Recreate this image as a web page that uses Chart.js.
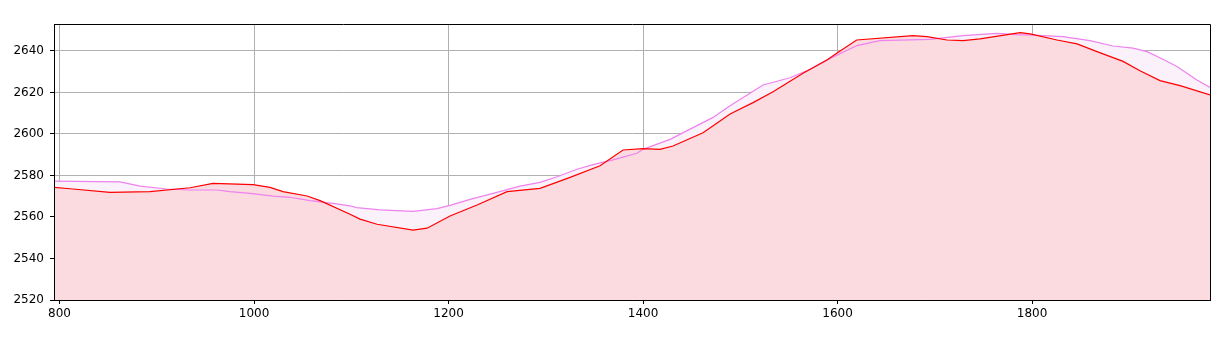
<!DOCTYPE html>
<html>
<head>
<meta charset="utf-8">
<script src="https://cdn.jsdelivr.net/npm/chart.js@4/dist/chart.umd.min.js"></script>
<style>
  html, body { margin: 0; padding: 0; background: #fff; }
  #wrap { width: 1222px; height: 346px; position: relative; }
</style>
</head>
<body>
<div id="wrap"><canvas id="c" width="1222" height="346"></canvas></div>
<script>
// Series A (red line, pink fill)
const redX = [794.3, 810.8, 851.9, 893.1, 934.2, 957.8, 999, 1016.4, 1029.8, 1054.5, 1067.9, 1098.7, 1109, 1126.5, 1163.5, 1177.9, 1201.5, 1229.3, 1260.2, 1294.1, 1325, 1355.8, 1379.4, 1400, 1417.5, 1430.8, 1461.7, 1489.5, 1513.1, 1533.7, 1564.5, 1589.2, 1599.5, 1619.7, 1677.6, 1692, 1712.6, 1729, 1746.5, 1787.7, 1798, 1825.7, 1846.3, 1866.8, 1893.6, 1911, 1931.6, 1952.2, 1983];
const redY = [2574.3, 2573.6, 2571.9, 2572.2, 2574.1, 2576.2, 2575.6, 2574.3, 2572.2, 2570.1, 2567.9, 2561.3, 2559, 2556.5, 2553.7, 2554.6, 2560.5, 2565.8, 2572.2, 2573.8, 2579.1, 2584.7, 2592.3, 2592.9, 2592.6, 2594.2, 2600.6, 2609.6, 2615.1, 2620.4, 2629.3, 2635.7, 2639, 2645.3, 2647.4, 2646.9, 2645.3, 2645, 2645.8, 2648.8, 2648.2, 2645.3, 2643.4, 2639.7, 2635, 2630.5, 2625.7, 2623.3, 2618.8];
// Series B (violet line, light fill)
const violetX = [794, 862.2, 882.8, 910.2, 934.2, 961.6, 975.3, 995.9, 1019.5, 1037, 1057.6, 1081.2, 1098.7, 1105.6, 1129.6, 1163.5, 1188.2, 1201.5, 1222.1, 1245.8, 1273.5, 1294.1, 1311.6, 1332.1, 1348.6, 1369.2, 1393.8, 1400, 1427.8, 1472, 1489.5, 1523.4, 1551.2, 1571.7, 1589.2, 1620, 1643.6, 1695, 1729, 1763.9, 1784.5, 1800.9, 1831.8, 1859.5, 1883.2, 1903.8, 1918.2, 1934.6, 1949, 1969.6, 1983];
const violetY = [2577.3, 2576.9, 2574.9, 2573.5, 2573, 2573, 2572.2, 2571.4, 2570.1, 2569.5, 2567.9, 2566.6, 2565.4, 2564.5, 2563.4, 2562.7, 2564, 2565.6, 2568.5, 2571.4, 2574.9, 2576.7, 2579.4, 2583, 2585.2, 2587.5, 2590.7, 2592.6, 2597.4, 2608, 2613.6, 2623.6, 2627.1, 2631.2, 2635.7, 2642.6, 2645, 2645.6, 2647.4, 2648.5, 2647.9, 2647.6, 2646.9, 2645, 2642.4, 2641.4, 2639.7, 2636, 2632.5, 2626, 2622.4];
const xTicks = [800, 1000, 1200, 1400, 1600, 1800];
const yTicks = [2520, 2540, 2560, 2580, 2600, 2620, 2640];

const toPts = (xs, ys) => xs.map((x, i) => ({ x: x, y: ys[i] }));

const frame = {
  id: 'frame',
  afterDraw(chart) {
    const a = chart.chartArea, ctx = chart.ctx;
    const l = Math.floor(a.left) + 0.5, t = Math.floor(a.top) + 0.5;
    const r = Math.floor(a.right) + 0.5, b = Math.floor(a.bottom) + 0.5;
    ctx.save();
    ctx.strokeStyle = '#000';
    ctx.lineWidth = 1;
    ctx.beginPath();
    ctx.moveTo(l, t); ctx.lineTo(r, t); ctx.lineTo(r, b); ctx.lineTo(l, b); ctx.closePath();
    ctx.stroke();
    ctx.restore();
  }
};

new Chart(document.getElementById('c'), {
  type: 'line',
  data: {
    datasets: [
      {
        data: toPts(redX, redY),
        borderColor: '#ff0000',
        backgroundColor: 'rgb(251,218,224)',
        borderWidth: 1.2,
        pointRadius: 0,
        tension: 0,
        fill: 'start'
      },
      {
        data: toPts(violetX, violetY),
        borderColor: '#ee82ee',
        backgroundColor: 'rgb(250,241,250)',
        borderWidth: 1.2,
        pointRadius: 0,
        tension: 0,
        fill: 'start'
      }
    ]
  },
  options: {
    responsive: false,
    animation: false,
    devicePixelRatio: 1,
    layout: { padding: { top: 24, right: 12, left: 0, bottom: 0 } },
    plugins: {
      legend: { display: false },
      tooltip: { enabled: false },
      filler: { drawTime: 'beforeDatasetsDraw' }
    },
    scales: {
      x: {
        type: 'linear',
        min: 794.3,
        max: 1983,
        afterBuildTicks: s => { s.ticks = xTicks.map(v => ({ value: v })); },
        afterFit: s => { s.height = 46; },
        grid: { color: '#b0b0b0', lineWidth: 1, tickColor: '#000', tickLength: 4, drawTicks: true },
        border: { color: '#000', width: 1 },
        ticks: { color: '#000', font: { family: 'DejaVu Sans', size: 12 }, padding: 3, maxRotation: 0, callback: v => String(v) }
      },
      y: {
        type: 'linear',
        min: 2520,
        max: 2653,
        afterBuildTicks: s => { s.ticks = yTicks.map(v => ({ value: v })); },
        afterFit: s => { s.width = 54; },
        grid: { color: '#b0b0b0', lineWidth: 1, tickColor: '#000', tickLength: 4, drawTicks: true },
        border: { color: '#000', width: 1 },
        ticks: { color: '#000', font: { family: 'DejaVu Sans', size: 12 }, padding: 6, callback: v => String(v) }
      }
    }
  },
  plugins: [frame]
});
</script>
</body>
</html>
